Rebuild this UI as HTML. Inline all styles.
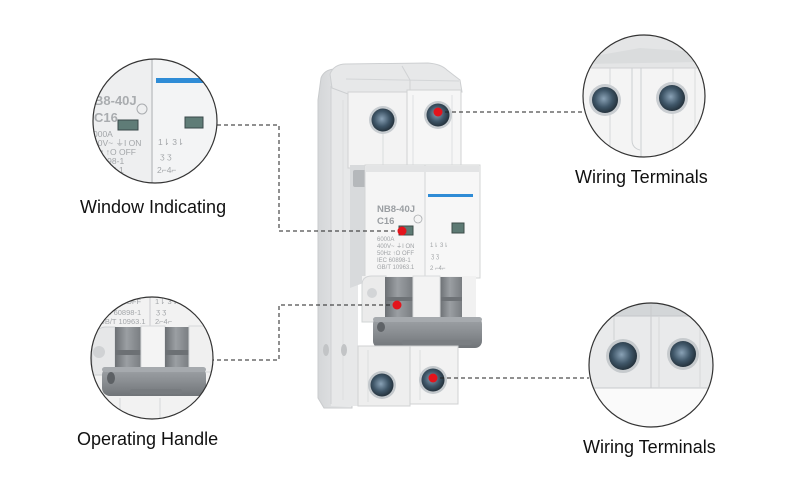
<!DOCTYPE html>
<html><head><meta charset="utf-8"><style>
html,body{margin:0;padding:0;background:#fff;}
svg{display:block;}
text{font-family:"Liberation Sans",Arial,sans-serif;}
</style></head><body>
<svg width="800" height="480" viewBox="0 0 800 480" xmlns="http://www.w3.org/2000/svg">
<defs>
<radialGradient id="scr" cx="0.45" cy="0.45" r="0.6">
<stop offset="0" stop-color="#8aa2b6"/><stop offset="0.55" stop-color="#3f5668"/><stop offset="1" stop-color="#1f2b34"/>
</radialGradient>
<linearGradient id="hdl" x1="0" y1="0" x2="1" y2="0">
<stop offset="0" stop-color="#6c7074"/><stop offset="0.45" stop-color="#9b9fa3"/><stop offset="1" stop-color="#797d81"/>
</linearGradient>
<linearGradient id="bar" x1="0" y1="0" x2="0" y2="1">
<stop offset="0" stop-color="#a0a4a8"/><stop offset="0.5" stop-color="#8a8e92"/><stop offset="1" stop-color="#707478"/>
</linearGradient>
<linearGradient id="side" x1="0" y1="0" x2="1" y2="0">
<stop offset="0" stop-color="#d4d6d8"/><stop offset="1" stop-color="#eaebec"/>
</linearGradient>
<clipPath id="cA"><circle cx="155" cy="121" r="62"/></clipPath>
<clipPath id="cB"><circle cx="644" cy="96" r="61"/></clipPath>
<clipPath id="cC"><circle cx="152" cy="358" r="61"/></clipPath>
<clipPath id="cD"><circle cx="651" cy="365" r="62"/></clipPath>
</defs>
<rect width="800" height="480" fill="#fff"/>

<!-- ===== BREAKER ===== -->
<path d="M318,100 L321,78 Q324,70 334,69 L352,69 L352,408 L324,408 L318,398 Z" fill="url(#side)" stroke="#c9cbcd"/>
<rect x="331" y="86" width="27" height="320" fill="#e7e8e9"/>
<line x1="331" y1="86" x2="331" y2="404" stroke="#cfd1d3"/>
<line x1="343" y1="100" x2="343" y2="400" stroke="#dcdedf"/>
<path d="M330,74 Q334,64 346,64 L428,63 Q441,64 447,70 L460,80 L462,92 L348,94 L332,88 Z" fill="#e7e8e9" stroke="#cdcfd1"/>
<path d="M346,79 L459,81" stroke="#d3d5d7"/>
<path d="M402,66 L410,80 L410,92" stroke="#d0d2d4" fill="none"/>
<!-- top terminal faces -->
<rect x="348" y="92" width="59" height="76" fill="#f3f3f3" stroke="#d0d2d3"/>
<rect x="407" y="90" width="54" height="78" fill="#f6f6f6" stroke="#d0d2d3"/>
<line x1="383" y1="132" x2="383" y2="166" stroke="#dadcdd"/>
<line x1="413" y1="95" x2="413" y2="166" stroke="#dfe0e1"/>
<line x1="452" y1="95" x2="452" y2="166" stroke="#dfe0e1"/>
<circle cx="383" cy="120" r="14" fill="#c7ccd0"/>
<circle cx="383" cy="120" r="11.5" fill="url(#scr)"/>
<circle cx="438" cy="115" r="14" fill="#c7ccd0"/>
<circle cx="438" cy="115" r="11.5" fill="url(#scr)"/>
<!-- middle label section -->
<path d="M350,165 L366,165 L366,282 L350,288 Z" fill="#d8dadc"/>
<rect x="353" y="170" width="14" height="17" rx="2" fill="#b5b8bb"/>
<rect x="365" y="165" width="60" height="113" fill="#f5f5f5" stroke="#d3d5d6"/>
<rect x="425" y="165" width="55" height="113" fill="#f7f7f7" stroke="#d3d5d6"/>
<rect x="366" y="166" width="113" height="6" fill="#e3e4e5"/>
<rect x="428" y="194" width="45" height="3" fill="#2f8cd6"/>
<text x="377" y="212" font-size="9.5" font-weight="bold" fill="#9a9ea2">NB8-40J</text>
<circle cx="418" cy="219" r="4" fill="none" stroke="#a9acaf" stroke-width="0.8"/>
<text x="377" y="224" font-size="9.5" font-weight="bold" fill="#9a9ea2">C16</text>
<rect x="399" y="226" width="14" height="9" fill="#5d7a74" stroke="#3d4d4a"/>
<rect x="452" y="223" width="12" height="10" fill="#5d7a74" stroke="#3d4d4a"/>
<g font-size="6" fill="#a0a3a6">
<text x="377" y="241">6000A</text>
<text x="377" y="248">400V~ ⏚I ON</text>
<text x="377" y="255">50Hz  ↑O OFF</text>
<text x="377" y="262">IEC 60898-1</text>
<text x="377" y="269">GB/T 10963.1</text>
<text x="430" y="247">1⇂ 3⇂</text>
<text x="431" y="258">ʒ  ʒ</text>
<text x="430" y="270">2 ⌐4⌐</text>
</g>
<!-- handle zone -->
<rect x="362" y="276" width="114" height="46" fill="#f1f1f1"/>
<path d="M362,285 Q362,276 372,276 L386,276 L386,322 L362,322 Z" fill="#ebebeb" stroke="#d2d4d6"/>
<circle cx="372" cy="293" r="5" fill="#d3d5d7"/>
<rect x="385" y="277" width="28" height="42" fill="url(#hdl)"/>
<rect x="385" y="297" width="28" height="4" fill="#6e7276"/>
<rect x="440" y="277" width="22" height="42" fill="url(#hdl)"/>
<rect x="440" y="297" width="22" height="4" fill="#6e7276"/>
<rect x="413" y="276" width="27" height="44" fill="#f3f3f3" stroke="#d9dbdc"/>
<!-- tie bar -->
<rect x="373" y="317" width="109" height="31" rx="7" fill="url(#bar)"/>
<rect x="373" y="317" width="109" height="5" rx="3" fill="#a6aaae"/>
<ellipse cx="381" cy="327" rx="4" ry="5" fill="#5f6367"/>
<rect x="402" y="340" width="70" height="5" rx="2" fill="#7a7e82"/>
<!-- bottom terminal -->
<rect x="358" y="346" width="52" height="60" fill="#eeeeee" stroke="#d0d2d3"/>
<rect x="410" y="346" width="48" height="58" fill="#f2f2f2" stroke="#d0d2d3"/>
<line x1="368" y1="350" x2="368" y2="402" stroke="#dcdedf"/>
<line x1="420" y1="350" x2="420" y2="400" stroke="#dcdedf"/>
<circle cx="382" cy="385" r="14" fill="#c3c8cc"/>
<circle cx="382" cy="385" r="11.5" fill="url(#scr)"/>
<circle cx="433" cy="380" r="14" fill="#c3c8cc"/>
<circle cx="433" cy="380" r="11.5" fill="url(#scr)"/>
<ellipse cx="326" cy="350" rx="3" ry="6" fill="#c2c4c6"/>
<ellipse cx="344" cy="350" rx="3" ry="6" fill="#c2c4c6"/>

<!-- ===== CIRCLE A (window) ===== -->
<g clip-path="url(#cA)">
<rect x="90" y="55" width="130" height="132" fill="#eeeff0"/>
<rect x="153" y="55" width="67" height="132" fill="#f3f4f5"/>
<line x1="152" y1="55" x2="152" y2="187" stroke="#c3c5c7" stroke-width="1.5"/>
<rect x="156" y="78" width="64" height="5" fill="#2f8cd6"/>
<text x="94" y="105" font-size="13" font-weight="bold" fill="#a9acaf">B8-40J</text>
<circle cx="142" cy="109" r="5" fill="none" stroke="#a9acaf"/>
<text x="94" y="122" font-size="13" font-weight="bold" fill="#a9acaf">C16</text>
<rect x="118" y="120" width="20" height="10" fill="#5f7c77" stroke="#39484a"/>
<rect x="185" y="117" width="18" height="11" fill="#5f7c77" stroke="#39484a"/>
<g font-size="8.5" fill="#a3a6a9">
<text x="93" y="137">000A</text>
<text x="93" y="146">00V~  ⏚I ON</text>
<text x="93" y="155">Hz   ↑O OFF</text>
<text x="93" y="164">40898-1</text>
<text x="93" y="173">10963.1</text>
<text x="158" y="145">1⇂ 3⇂</text>
<text x="160" y="159">ʒ  ʒ</text>
<text x="157" y="173">2⌐4⌐</text>
</g>
</g>
<circle cx="155" cy="121" r="62" fill="none" stroke="#333" stroke-width="1.2"/>

<!-- ===== CIRCLE B (top terminals) ===== -->
<g clip-path="url(#cB)">
<rect x="580" y="30" width="130" height="130" fill="#f4f4f4"/>
<path d="M580,30 L710,30 L710,68 L580,68 Z" fill="#e4e5e6"/>
<path d="M600,55 L640,48 L700,52 L700,62 L580,64 Z" fill="#dadcdd"/>
<line x1="580" y1="68" x2="710" y2="68" stroke="#cfd1d3"/>
<line x1="610" y1="68" x2="610" y2="157" stroke="#d6d8da"/>
<path d="M632,68 L632,140 Q632,148 640,150" stroke="#cdd0d2" fill="none"/>
<line x1="641" y1="68" x2="641" y2="157" stroke="#cdd0d2"/>
<line x1="673" y1="68" x2="673" y2="157" stroke="#dadcdd"/>
<line x1="695" y1="68" x2="695" y2="157" stroke="#dadcdd"/>
<circle cx="605" cy="100" r="16" fill="#c9cdd1"/>
<circle cx="605" cy="100" r="13" fill="url(#scr)"/>
<circle cx="672" cy="98" r="16" fill="#c9cdd1"/>
<circle cx="672" cy="98" r="13" fill="url(#scr)"/>
</g>
<circle cx="644" cy="96" r="61" fill="none" stroke="#333" stroke-width="1.2"/>

<!-- ===== CIRCLE C (handle) ===== -->
<g clip-path="url(#cC)">
<rect x="88" y="294" width="130" height="130" fill="#f2f2f2"/>
<line x1="150" y1="294" x2="150" y2="330" stroke="#c9cbcd"/>
<g font-size="7.5" fill="#a3a6a9">
<text x="99" y="304">0Hz  ↑O OFF</text>
<text x="99" y="315">IEC 60898-1</text>
<text x="99" y="324">GB/T 10963.1</text>
<text x="155" y="304">1⇂ 3⇂</text>
<text x="156" y="314">ʒ ʒ</text>
<text x="155" y="324">2⌐4⌐</text>
</g>
<path d="M92,340 Q95,328 105,327 L115,327 L115,375 L92,375 Z" fill="#e6e7e8" stroke="#cfd1d3"/>
<circle cx="99" cy="352" r="6" fill="#d0d2d4"/>
<rect x="115" y="327" width="26" height="44" fill="url(#hdl)"/>
<rect x="115" y="350" width="26" height="5" fill="#6c7074"/>
<rect x="141" y="326" width="24" height="46" fill="#f4f4f4" stroke="#d6d8da"/>
<rect x="165" y="327" width="24" height="44" fill="url(#hdl)"/>
<rect x="165" y="350" width="24" height="5" fill="#6c7074"/>
<rect x="189" y="326" width="24" height="46" fill="#f0f0f0" stroke="#d6d8da"/>
<rect x="102" y="367" width="104" height="29" rx="8" fill="url(#bar)"/>
<rect x="102" y="367" width="104" height="5" rx="3" fill="#a6aaae"/>
<ellipse cx="111" cy="378" rx="4" ry="6" fill="#5d6165"/>
<rect x="130" y="389" width="52" height="5" rx="2" fill="#777b7f"/>
<line x1="120" y1="398" x2="120" y2="424" stroke="#d6d8da"/>
<line x1="160" y1="398" x2="160" y2="424" stroke="#d6d8da"/>
</g>
<circle cx="152" cy="358" r="61" fill="none" stroke="#333" stroke-width="1.2"/>

<!-- ===== CIRCLE D (bottom terminals) ===== -->
<g clip-path="url(#cD)">
<rect x="586" y="300" width="130" height="130" fill="#fafafa"/>
<rect x="586" y="300" width="130" height="16" fill="#d3d6d8"/>
<rect x="586" y="316" width="130" height="72" fill="#e9eaeb"/>
<line x1="586" y1="316" x2="716" y2="316" stroke="#c4c7ca"/>
<line x1="586" y1="388" x2="716" y2="388" stroke="#c8cacc"/>
<line x1="614" y1="316" x2="614" y2="340" stroke="#cfd1d3"/>
<line x1="651" y1="305" x2="651" y2="388" stroke="#c9cbcd"/>
<line x1="659" y1="316" x2="659" y2="388" stroke="#d6d8da"/>
<line x1="700" y1="316" x2="700" y2="388" stroke="#d6d8da"/>
<circle cx="623" cy="356" r="17" fill="#c6cacd"/>
<circle cx="623" cy="356" r="14" fill="url(#scr)"/>
<circle cx="683" cy="354" r="16" fill="#c6cacd"/>
<circle cx="683" cy="354" r="13" fill="url(#scr)"/>
</g>
<circle cx="651" cy="365" r="62" fill="none" stroke="#333" stroke-width="1.2"/>

<!-- ===== DASHED CONNECTORS ===== -->
<g stroke="#222" stroke-width="1" stroke-dasharray="4 3" fill="none">
<path d="M438,112 L582,112"/>
<path d="M217,125 L279,125 L279,231 L402,231"/>
<path d="M397,305 L279,305 L279,360 L213,360"/>
<path d="M433,378 L589,378"/>
</g>
<g fill="#e3141c">
<circle cx="438" cy="112" r="4.5"/>
<circle cx="402" cy="231" r="4.5"/>
<circle cx="397" cy="305" r="4.5"/>
<circle cx="433" cy="378" r="4.5"/>
</g>

<!-- ===== LABELS ===== -->
<g font-size="18" fill="#111">
<text x="80" y="213">Window Indicating</text>
<text x="575" y="183">Wiring Terminals</text>
<text x="77" y="445">Operating Handle</text>
<text x="583" y="453">Wiring Terminals</text>
</g>
</svg>
</body></html>
